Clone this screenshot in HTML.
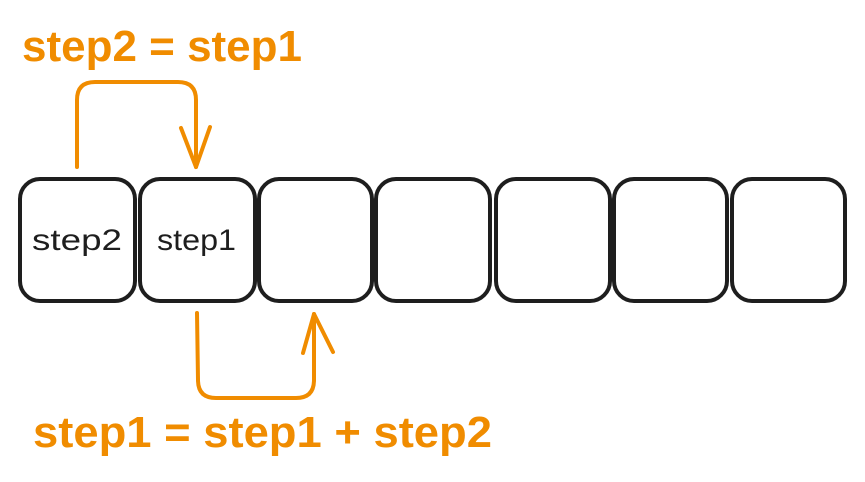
<!DOCTYPE html>
<html><head><style>
html,body{margin:0;padding:0;background:#fff;}
svg{display:block;}
</style></head><body>
<svg width="865" height="482" viewBox="0 0 865 482" xmlns="http://www.w3.org/2000/svg">
<g fill="none" stroke="#1e1e1e" stroke-width="4">
<rect x="20" y="179" width="115" height="122" rx="20"/>
<rect x="140" y="179" width="115" height="122" rx="20"/>
<rect x="259" y="179" width="113" height="122" rx="20"/>
<rect x="376" y="179" width="114" height="122" rx="20"/>
<rect x="496" y="179" width="114" height="122" rx="20"/>
<rect x="614" y="179" width="113" height="122" rx="20"/>
<rect x="732" y="179" width="113" height="122" rx="20"/>
</g>
<g fill="none" stroke="#f08c00" stroke-width="4" stroke-linecap="round" stroke-linejoin="round">
<path d="M77 167 L77 100 Q77 82 95 82 L178 82 Q196 82 196 100 L196 167"/>
<path d="M181 128 L196 167 L210 127"/>
<path d="M197 313 L198 380 Q198 398 216 398 L296 398 Q314 398 314 380 L314 314"/>
<path d="M303 353 L314 314 L333 352"/>
</g>
<g font-family="Liberation Sans, sans-serif" font-weight="bold" fill="#f08c00">
<text x="22" y="61" font-size="44" textLength="280" lengthAdjust="spacingAndGlyphs">step2 = step1</text>
<text x="33" y="447" font-size="44" textLength="459" lengthAdjust="spacingAndGlyphs">step1 = step1 + step2</text>
</g>
<g font-family="Liberation Sans, sans-serif" fill="#1e1e1e" font-size="30">
<text x="32" y="250" textLength="90" lengthAdjust="spacingAndGlyphs">step2</text>
<text x="157" y="250" textLength="79" lengthAdjust="spacingAndGlyphs">step1</text>
</g>
</svg>
</body></html>
